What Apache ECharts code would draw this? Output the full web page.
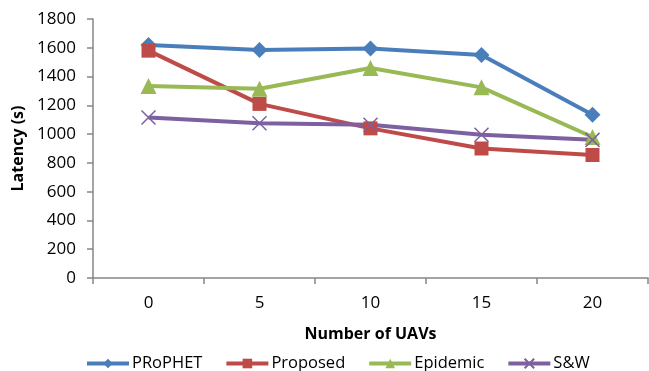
<!DOCTYPE html>
<html>
<head>
<meta charset="utf-8">
<script src="https://cdn.jsdelivr.net/npm/echarts@6/dist/echarts.min.js"></script>
<style>
  html, body { margin: 0; padding: 0; background: #fff; }
  #chart { width: 649px; height: 371px; }
</style>
</head>
<body>
<div id="chart"></div>
<script>
// Number of UAVs on the x axis
const categories = ['0', '5', '10', '15', '20'];

// Latency (s) per routing scheme
const prophet  = [1620, 1585, 1595, 1550, 1135];
const proposed = [1580, 1210, 1040, 900, 855];
const epidemic = [1335, 1315, 1460, 1325, 980];
const sw       = [1115, 1075, 1065, 995, 960];

const yTicks = { min: 0, max: 1800, interval: 200 };

const FONT = '"Open Sans", "Liberation Sans", sans-serif';

function lineSeries(name, data, color, symbol, size) {
  return {
    name: name,
    type: 'line',
    data: data,
    symbol: symbol,
    symbolSize: size,
    lineStyle: { color: color, width: 4 },
    itemStyle: { color: color },
    z: 2
  };
}

const chart = echarts.init(document.getElementById('chart'), null, { renderer: 'canvas' });
chart.setOption({
  animation: false,
  backgroundColor: '#ffffff',
  textStyle: { fontFamily: FONT },
  grid: { left: 93, right: 1, top: 19, bottom: 93, containLabel: false },
  legend: {
    top: 355,
    left: 85,
    padding: 0,
    itemWidth: 42,
    itemHeight: 12,
    itemGap: 22,
    lineStyle: { width: 4 },
    textStyle: { fontFamily: FONT, fontSize: 16.5, color: '#000', padding: [0, 0, 0, -2] },
    data: ['PRoPHET', 'Proposed', 'Epidemic', 'S&W']
  },
  xAxis: {
    type: 'category',
    data: categories,
    boundaryGap: true,
    name: 'Number of UAVs',
    nameLocation: 'middle',
    nameGap: 48,
    nameTextStyle: { fontFamily: FONT, fontSize: 16, fontWeight: 'bold', color: '#000' },
    axisLine: { lineStyle: { color: '#868686', width: 1.5 } },
    axisTick: { show: true, length: 6, inside: false, alignWithLabel: false, lineStyle: { color: '#868686', width: 1.5 } },
    axisLabel: { fontFamily: FONT, fontSize: 17, color: '#000', margin: 17 },
    splitLine: { show: false }
  },
  yAxis: {
    type: 'value',
    min: yTicks.min,
    max: yTicks.max,
    interval: yTicks.interval,
    name: 'Latency (s)',
    nameLocation: 'middle',
    nameGap: 64,
    nameRotate: 90,
    nameTextStyle: { fontFamily: FONT, fontSize: 16, fontWeight: 'bold', color: '#000' },
    axisLine: { show: true, lineStyle: { color: '#868686', width: 1.5 } },
    axisTick: { show: true, length: 6, lineStyle: { color: '#868686', width: 1.5 } },
    axisLabel: { fontFamily: FONT, fontSize: 17, color: '#000', margin: 17, formatter: (v) => String(v) },
    splitLine: { show: false }
  },
  series: [
    lineSeries('PRoPHET', prophet, '#4A7EBB', 'diamond', 16),
    lineSeries('Proposed', proposed, '#BE4B48', 'rect', 14),
    lineSeries('Epidemic', epidemic, '#98B954', 'triangle', 16),
    Object.assign(lineSeries('S&W', sw, '#7D60A0', 'path://M0,0 L10,10 M10,0 L0,10', 14), {
      itemStyle: { color: 'none', borderColor: '#7D60A0', borderWidth: 1.5 }
    })
  ]
});
</script>
</body>
</html>
